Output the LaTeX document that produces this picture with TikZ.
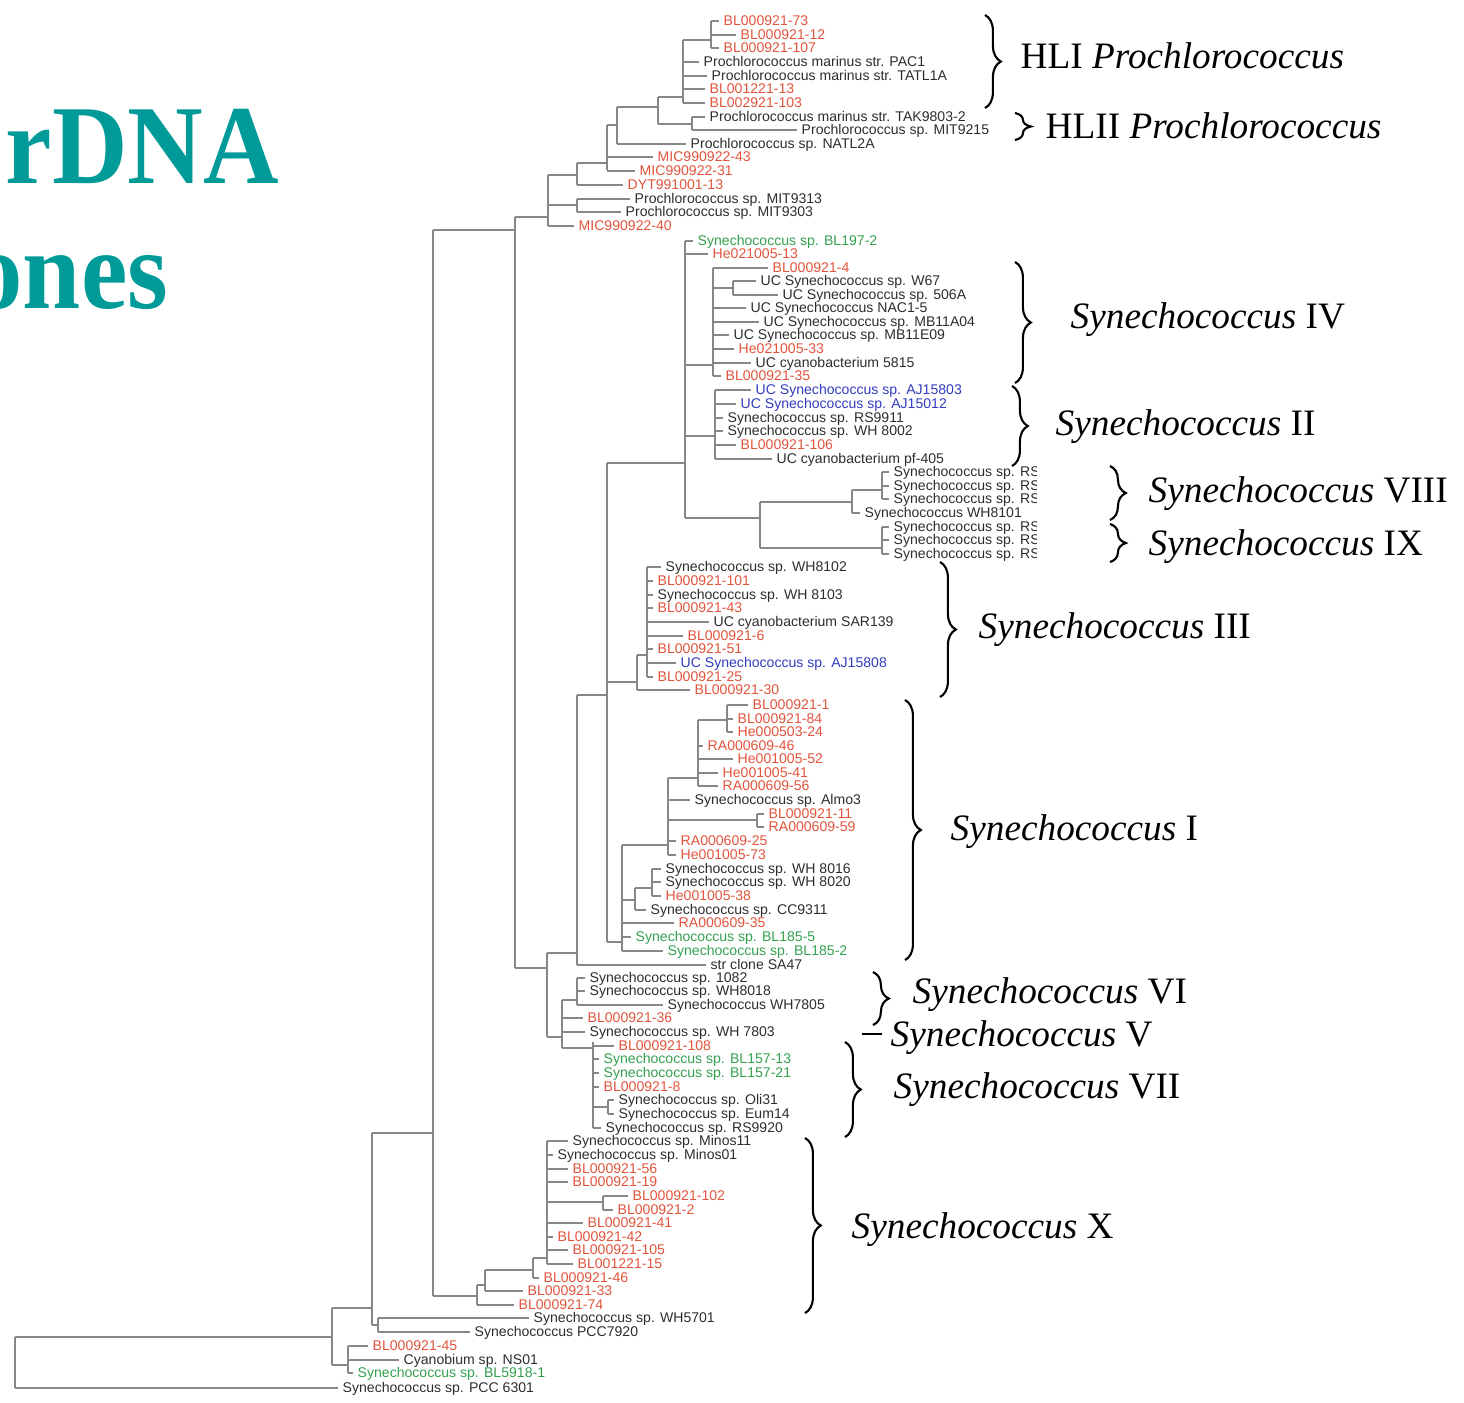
\documentclass[tikz,border=0pt]{standalone}
\usepackage{fontspec}
\setmainfont{Liberation Serif}
\newfontfamily\leaffont{Liberation Sans}
\usetikzlibrary{decorations.pathreplacing}

\definecolor{leafred}{RGB}{226,84,60}
\definecolor{leafgreen}{RGB}{52,160,80}
\definecolor{leafblue}{RGB}{50,60,190}
\definecolor{leafdark}{RGB}{45,45,45}
\definecolor{branchgray}{RGB}{135,135,135}
\definecolor{titleteal}{RGB}{0,155,153}

\tikzset{
  br/.style={draw=branchgray, line width=0.4pt},
  lf/.style={anchor=west, inner sep=0pt, font=\leaffont\fontsize{4}{4.5}\selectfont, text height=2.9pt, text depth=0.5pt},
  redleaf/.style={text=leafred},
  greenleaf/.style={text=leafgreen},
  blueleaf/.style={text=leafblue},
  darkleaf/.style={text=leafdark},
  grp/.style={anchor=west, inner sep=0pt, font=\fontsize{10.6}{12}\selectfont},
  brc/.style={draw=black, line width=0.6pt, decorate, decoration={brace, amplitude=4.5pt}},
  ttl/.style={anchor=base west, inner sep=0pt, text=titleteal, xscale=0.93, font=\fontsize{32}{36}\selectfont\bfseries}
}
% leaf: parent x, name, label x, y, colour style, text
\newcommand{\leafat}[6]{\node[lf,#5] (#2) at (#3,#4) {#6};
  \draw[br] (#1,#4) -- ([xshift=-0.04cm]#2.west);}
% vertical bar of a clade: x, top y, bottom y
\newcommand{\clade}[3]{\draw[br] (#1,#2) -- (#1,#3);}
% horizontal join: parent x, child x, y
\newcommand{\joinat}[3]{\draw[br] (#1,#3) -- (#2,#3);}

\begin{document}
\begin{tikzpicture}[x=0.01cm, y=-0.01cm]
  \useasboundingbox (0,0) rectangle (1464,1402);

  %%%%% title %%%%%
  \node[ttl] (tone) at (5,183) {rDNA};
  \node[ttl] (ttwo) at (-30,308) {ones};

  %%%%% Prochlorococcus %%%%%
  \leafat{711}{p1}{723}{21}{redleaf}{BL000921-73}
  \leafat{711}{p2}{740}{35}{redleaf}{BL000921-12}
  \leafat{711}{p3}{723}{48}{redleaf}{BL000921-107}
  \leafat{683}{p4}{703}{62}{darkleaf}{Prochlorococcus marinus str. PAC1}
  \leafat{683}{p5}{711}{76}{darkleaf}{Prochlorococcus marinus str. TATL1A}
  \leafat{683}{p6}{709}{89}{redleaf}{BL001221-13}
  \leafat{683}{p7}{709}{103}{redleaf}{BL002921-103}
  \leafat{692}{p8}{709}{117}{darkleaf}{Prochlorococcus marinus str. TAK9803-2}
  \leafat{692}{p9}{801}{130}{darkleaf}{Prochlorococcus sp. MIT9215}
  \leafat{617}{p10}{690}{144}{darkleaf}{Prochlorococcus sp. NATL2A}
  \leafat{607}{p11}{657}{157}{redleaf}{MIC990922-43}
  \leafat{607}{p12}{639}{171}{redleaf}{MIC990922-31}
  \leafat{577}{p13}{627}{185}{redleaf}{DYT991001-13}
  \leafat{577}{p14}{634}{199}{darkleaf}{Prochlorococcus sp. MIT9313}
  \leafat{577}{p15}{625}{212}{darkleaf}{Prochlorococcus sp. MIT9303}
  \leafat{548}{p16}{578}{226}{redleaf}{MIC990922-40}

  \clade{711}{21}{48} \joinat{683}{711}{40}
  \clade{683}{40}{103}
  \clade{692}{117}{130}
  \clade{658}{97}{124} \joinat{658}{683}{97} \joinat{658}{692}{124}
  \clade{617}{107}{144} \joinat{617}{658}{107}
  \clade{607}{125}{170} \joinat{607}{617}{125}
  \clade{577}{163}{185} \joinat{577}{607}{163}
  \clade{577}{199}{212} \joinat{548}{577}{205}
  \clade{548}{175}{226} \joinat{548}{577}{175}
  \joinat{515}{548}{217}

  %%%%% Synechococcus IV, II, VIII, IX %%%%%
  \leafat{685}{u1}{697}{241}{greenleaf}{Synechococcus sp. BL197-2}
  \leafat{685}{u2}{712}{254}{redleaf}{He021005-13}
  \leafat{713}{u3}{772}{268}{redleaf}{BL000921-4}
  \leafat{733}{u4}{760}{281}{darkleaf}{UC Synechococcus sp. W67}
  \leafat{733}{u5}{782}{295}{darkleaf}{UC Synechococcus sp. 506A}
  \leafat{713}{u6}{750}{308}{darkleaf}{UC Synechococcus NAC1-5}
  \leafat{713}{u7}{763}{322}{darkleaf}{UC Synechococcus sp. MB11A04}
  \leafat{713}{u8}{733}{335}{darkleaf}{UC Synechococcus sp. MB11E09}
  \leafat{713}{u9}{738}{349}{redleaf}{He021005-33}
  \leafat{713}{u10}{755}{363}{darkleaf}{UC cyanobacterium 5815}
  \leafat{713}{u11}{725}{376}{redleaf}{BL000921-35}
  \clade{733}{281}{295} \joinat{713}{733}{288}
  \clade{713}{268}{376} \joinat{685}{713}{365}

  \leafat{715}{u12}{755}{390}{blueleaf}{UC Synechococcus sp. AJ15803}
  \leafat{715}{u13}{740}{404}{blueleaf}{UC Synechococcus sp. AJ15012}
  \leafat{715}{u14}{727}{418}{darkleaf}{Synechococcus sp. RS9911}
  \leafat{715}{u15}{727}{431}{darkleaf}{Synechococcus sp. WH 8002}
  \leafat{715}{u16}{740}{445}{redleaf}{BL000921-106}
  \leafat{715}{u17}{776}{459}{darkleaf}{UC cyanobacterium pf-405}
  \clade{715}{390}{459} \joinat{685}{715}{436}

  \begin{scope}
    \clip (830,462) rectangle (1036,562);
    \leafat{882}{v1}{893}{472}{darkleaf}{Synechococcus sp. RS9}
    \leafat{882}{v2}{893}{486}{darkleaf}{Synechococcus sp. RS9}
    \leafat{882}{v3}{893}{499}{darkleaf}{Synechococcus sp. RS9}
    \leafat{852}{v4}{864}{513}{darkleaf}{Synechococcus WH8101}
    \leafat{882}{v5}{893}{527}{darkleaf}{Synechococcus sp. RS9}
    \leafat{882}{v6}{893}{540}{darkleaf}{Synechococcus sp. RS9}
    \leafat{882}{v7}{893}{554}{darkleaf}{Synechococcus sp. RS9}
  \end{scope}
  \clade{882}{472}{499} \joinat{852}{882}{490}
  \clade{852}{490}{513}
  \clade{882}{527}{554} \joinat{760}{882}{548}
  \clade{760}{502}{548} \joinat{760}{852}{502}
  \joinat{685}{760}{518}
  \clade{685}{241}{518} \joinat{607}{685}{463}

  %%%%% Synechococcus III %%%%%
  \leafat{647}{t1}{665}{567}{darkleaf}{Synechococcus sp. WH8102}
  \leafat{647}{t2}{657}{581}{redleaf}{BL000921-101}
  \leafat{647}{t3}{657}{595}{darkleaf}{Synechococcus sp. WH 8103}
  \leafat{647}{t4}{657}{608}{redleaf}{BL000921-43}
  \leafat{647}{t5}{713}{622}{darkleaf}{UC cyanobacterium SAR139}
  \leafat{647}{t6}{687}{636}{redleaf}{BL000921-6}
  \leafat{647}{t7}{657}{649}{redleaf}{BL000921-51}
  \leafat{647}{t8}{680}{663}{blueleaf}{UC Synechococcus sp. AJ15808}
  \leafat{647}{t9}{657}{677}{redleaf}{BL000921-25}
  \leafat{637}{t10}{694}{690}{redleaf}{BL000921-30}
  \clade{647}{567}{677}
  \clade{637}{655}{690} \joinat{637}{647}{655}
  \joinat{607}{637}{682}

  %%%%% Synechococcus I %%%%%
  \leafat{727}{s1}{752}{705}{redleaf}{BL000921-1}
  \leafat{727}{s2}{737}{719}{redleaf}{BL000921-84}
  \leafat{727}{s3}{737}{732}{redleaf}{He000503-24}
  \leafat{698}{s4}{707}{746}{redleaf}{RA000609-46}
  \leafat{698}{s5}{737}{759}{redleaf}{He001005-52}
  \leafat{698}{s6}{722}{773}{redleaf}{He001005-41}
  \leafat{698}{s7}{722}{786}{redleaf}{RA000609-56}
  \leafat{668}{s8}{694}{800}{darkleaf}{Synechococcus sp. Almo3}
  \leafat{757}{s9}{768}{814}{redleaf}{BL000921-11}
  \leafat{757}{s10}{768}{827}{redleaf}{RA000609-59}
  \leafat{668}{s11}{680}{841}{redleaf}{RA000609-25}
  \leafat{668}{s12}{680}{855}{redleaf}{He001005-73}
  \leafat{652}{s13}{665}{869}{darkleaf}{Synechococcus sp. WH 8016}
  \leafat{652}{s14}{665}{882}{darkleaf}{Synechococcus sp. WH 8020}
  \leafat{652}{s15}{665}{896}{redleaf}{He001005-38}
  \leafat{635}{s16}{650}{910}{darkleaf}{Synechococcus sp. CC9311}
  \leafat{622}{s17}{678}{923}{redleaf}{RA000609-35}
  \leafat{622}{s18}{635}{937}{greenleaf}{Synechococcus sp. BL185-5}
  \leafat{622}{s19}{667}{951}{greenleaf}{Synechococcus sp. BL185-2}
  \leafat{577}{s20}{710}{965}{darkleaf}{str clone SA47}
  \clade{727}{705}{732} \joinat{698}{727}{720}
  \clade{698}{720}{786} \joinat{668}{698}{778}
  \clade{757}{814}{827} \joinat{668}{757}{820}
  \clade{668}{778}{855} \joinat{622}{668}{845}
  \clade{652}{869}{896} \joinat{635}{652}{888}
  \clade{635}{888}{910} \joinat{622}{635}{900}
  \clade{622}{845}{951} \joinat{607}{622}{942}
  \clade{607}{463}{942} \joinat{577}{607}{695}
  \clade{577}{695}{965} \joinat{547}{577}{953}

  %%%%% Synechococcus VI, V, VII %%%%%
  \leafat{577}{w1}{589}{978}{darkleaf}{Synechococcus sp. 1082}
  \leafat{577}{w2}{589}{991}{darkleaf}{Synechococcus sp. WH8018}
  \leafat{577}{w3}{667}{1005}{darkleaf}{Synechococcus WH7805}
  \leafat{562}{w4}{587}{1018}{redleaf}{BL000921-36}
  \leafat{562}{w5}{589}{1032}{darkleaf}{Synechococcus sp. WH 7803}
  \clade{577}{978}{1005} \joinat{562}{577}{1000}
  \clade{562}{1000}{1048} \joinat{547}{562}{1037} \joinat{562}{593}{1048}
  \clade{547}{953}{1037} \joinat{515}{547}{968}

  \leafat{593}{w6}{618}{1046}{redleaf}{BL000921-108}
  \leafat{593}{w7}{603}{1059}{greenleaf}{Synechococcus sp. BL157-13}
  \leafat{593}{w8}{603}{1073}{greenleaf}{Synechococcus sp. BL157-21}
  \leafat{593}{w9}{603}{1087}{redleaf}{BL000921-8}
  \leafat{608}{w10}{618}{1100}{darkleaf}{Synechococcus sp. Oli31}
  \leafat{608}{w11}{618}{1114}{darkleaf}{Synechococcus sp. Eum14}
  \leafat{593}{w12}{605}{1128}{darkleaf}{Synechococcus sp. RS9920}
  \clade{593}{1042}{1128}
  \clade{608}{1100}{1114} \joinat{593}{608}{1107}

  %%%%% Synechococcus X %%%%%
  \leafat{547}{x1}{572}{1141}{darkleaf}{Synechococcus sp. Minos11}
  \leafat{547}{x2}{557}{1155}{darkleaf}{Synechococcus sp. Minos01}
  \leafat{547}{x3}{572}{1169}{redleaf}{BL000921-56}
  \leafat{547}{x4}{572}{1182}{redleaf}{BL000921-19}
  \leafat{603}{x5}{632}{1196}{redleaf}{BL000921-102}
  \leafat{603}{x6}{617}{1210}{redleaf}{BL000921-2}
  \leafat{547}{x7}{587}{1223}{redleaf}{BL000921-41}
  \leafat{547}{x8}{557}{1237}{redleaf}{BL000921-42}
  \leafat{547}{x9}{572}{1250}{redleaf}{BL000921-105}
  \leafat{547}{x10}{577}{1264}{redleaf}{BL001221-15}
  \leafat{533}{x11}{543}{1278}{redleaf}{BL000921-46}
  \leafat{485}{x12}{527}{1291}{redleaf}{BL000921-33}
  \leafat{477}{x13}{518}{1305}{redleaf}{BL000921-74}
  \clade{603}{1196}{1210} \joinat{547}{603}{1202}
  \clade{547}{1141}{1264} \joinat{533}{547}{1258}
  \clade{533}{1258}{1278} \joinat{485}{533}{1270}
  \clade{485}{1270}{1291} \joinat{477}{485}{1285}
  \clade{477}{1285}{1305} \joinat{433}{477}{1296}

  %%%%% deep branches %%%%%
  \clade{515}{217}{968} \joinat{433}{515}{230}
  \clade{433}{230}{1296} \joinat{372}{433}{1133}
  \leafat{378}{y1}{533}{1318}{darkleaf}{Synechococcus sp. WH5701}
  \leafat{378}{y2}{474}{1332}{darkleaf}{Synechococcus PCC7920}
  \clade{378}{1318}{1332} \joinat{372}{378}{1325}
  \clade{372}{1133}{1325} \joinat{332}{372}{1308}
  \leafat{348}{y3}{372}{1346}{redleaf}{BL000921-45}
  \leafat{348}{y4}{403}{1360}{darkleaf}{Cyanobium sp. NS01}
  \leafat{348}{y5}{357}{1373}{greenleaf}{Synechococcus sp. BL5918-1}
  \clade{348}{1346}{1373} \joinat{332}{348}{1365}
  \clade{332}{1308}{1365} \joinat{15}{332}{1337}
  \leafat{15}{y6}{342}{1388}{darkleaf}{Synechococcus sp. PCC 6301}
  \clade{15}{1337}{1388}

  %%%%% clade labels %%%%%
  \draw[brc] (985,15) -- (985,108);
  \node[grp] (gHLI) at (1020,56) {HLI \textit{Prochlorococcus}};
  \draw[brc] (1015,113) -- (1015,140);
  \node[grp] (gHLII) at (1045,126) {HLII \textit{Prochlorococcus}};
  \draw[brc] (1015,262) -- (1015,383);
  \node[grp] (gIV) at (1070,320) {\textit{Synechococcus} IV};
  \draw[brc] (1012,386) -- (1012,466);
  \node[grp] (gII) at (1055,427) {\textit{Synechococcus} II};
  \draw[brc] (1110,466) -- (1110,520);
  \node[grp] (gVIII) at (1148,494) {\textit{Synechococcus} VIII};
  \draw[brc] (1110,524) -- (1110,562);
  \node[grp] (gIX) at (1148,547) {\textit{Synechococcus} IX};
  \draw[brc] (940,562) -- (940,697);
  \node[grp] (gIII) at (978,630) {\textit{Synechococcus} III};
  \draw[brc] (905,700) -- (905,960);
  \node[grp] (gI) at (950,832) {\textit{Synechococcus} I};
  \draw[brc] (873,972) -- (873,1025);
  \node[grp] (gVI) at (912,995) {\textit{Synechococcus} VI};
  \node[grp] (gV) at (890,1038) {\textit{Synechococcus} V};
  \draw[line width=0.6pt] ([xshift=-0.08cm,yshift=0.04cm]gV.west) -- ++(-20,0);
  \draw[brc] (845,1042) -- (845,1137);
  \node[grp] (gVII) at (893,1090) {\textit{Synechococcus} VII};
  \draw[brc] (805,1138) -- (805,1313);
  \node[grp] (gX) at (851,1230) {\textit{Synechococcus} X};
\end{tikzpicture}
\end{document}
